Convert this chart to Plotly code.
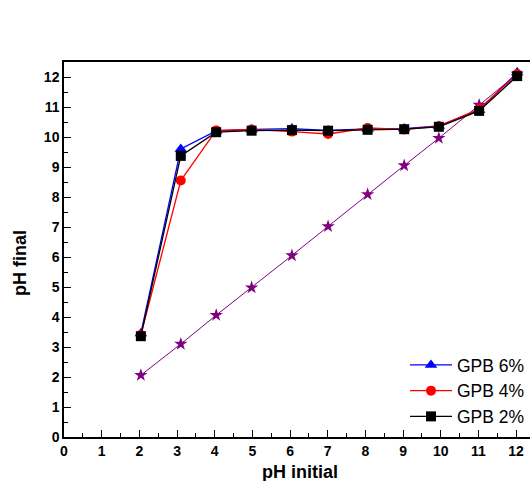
import plotly.graph_objects as go

ph_initial = [2.04, 3.1, 4.04, 4.98, 6.05, 7.01, 8.06, 9.03, 9.95, 11.02, 12.03]
gpb6 = [3.45, 9.6, 10.2, 10.25, 10.28, 10.22, 10.27, 10.28, 10.37, 10.9, 12.15]
gpb4 = [3.4, 8.55, 10.22, 10.25, 10.18, 10.1, 10.3, 10.25, 10.36, 10.93, 12.1]
gpb2 = [3.36, 9.37, 10.16, 10.21, 10.23, 10.21, 10.24, 10.26, 10.34, 10.87, 12.03]
reference = [2.06, 3.1, 4.06, 4.98, 6.05, 7.02, 8.09, 9.05, 9.96, 11.07, 12.1]

x_ticks = list(range(0, 13))
y_ticks = list(range(0, 13))

W, H = 530, 481
L, R, T, B = 64, 0, 62, 44

fig = go.Figure()
fig.add_trace(go.Scatter(x=ph_initial, y=reference, mode="lines+markers",
                         line=dict(color="#800080", width=1),
                         marker=dict(symbol="star", size=10, color="#800080"),
                         showlegend=False))
fig.add_trace(go.Scatter(x=ph_initial, y=gpb6, mode="lines+markers", name="GPB 6%",
                         line=dict(color="#0000FF", width=1.3),
                         marker=dict(symbol="triangle-up", size=11, color="#0000FF")))
fig.add_trace(go.Scatter(x=ph_initial, y=gpb4, mode="lines+markers", name="GPB 4%",
                         line=dict(color="#FF0000", width=1.3),
                         marker=dict(symbol="circle", size=10, color="#FF0000")))
fig.add_trace(go.Scatter(x=ph_initial, y=gpb2, mode="lines+markers", name="GPB 2%",
                         line=dict(color="#000000", width=1.3),
                         marker=dict(symbol="square", size=10, color="#000000")))

pw, ph = W - L - R, H - T - B
def px_to_paper(xp, yp):
    return (xp - L) / pw, (H - B - yp) / ph

axis_font = dict(family="Liberation Sans", size=14, color="black")
title_font = dict(family="Liberation Sans", size=18, color="black")
xt_x, xt_y = px_to_paper(299.5, 472)
yt_x, yt_y = px_to_paper(20, 263)

fig.update_layout(
    width=W, height=H,
    margin=dict(l=L, r=R, t=T, b=B),
    paper_bgcolor="white", plot_bgcolor="white",
    font=dict(family="Liberation Sans", color="black"),
    xaxis=dict(range=[0, 12.37], tickvals=x_ticks, ticktext=[f"<b>{v}</b>" for v in x_ticks],
               tickfont=axis_font, showgrid=False, zeroline=False, automargin=False,
               showline=True, linecolor="black", linewidth=1.5, mirror=True,
               ticks="inside", ticklen=7, tickwidth=1.2, tickcolor="black",
               minor=dict(dtick=0.5, ticks="inside", ticklen=4, tickwidth=1, tickcolor="black")),
    yaxis=dict(range=[0, 12.5], tickvals=y_ticks, ticktext=[f"<b>{v}</b>" for v in y_ticks],
               tickfont=axis_font, showgrid=False, zeroline=False, automargin=False,
               showline=True, linecolor="black", linewidth=1.5, mirror=False,
               ticks="inside", ticklen=7, tickwidth=1.2, tickcolor="black",
               minor=dict(dtick=0.5, ticks="inside", ticklen=4, tickwidth=1, tickcolor="black")),
    legend=dict(x=0.732, y=0.24, xanchor="left", yanchor="top",
                font=dict(family="Liberation Sans", size=17.5, color="black"),
                bgcolor="rgba(0,0,0,0)", itemwidth=42, tracegroupgap=0),
    annotations=[
        dict(text="<b>pH initial</b>", x=xt_x, y=xt_y, xref="paper", yref="paper",
             xanchor="center", yanchor="middle", showarrow=False, font=title_font),
        dict(text="<b>pH final</b>", x=yt_x, y=yt_y, xref="paper", yref="paper",
             xanchor="center", yanchor="middle", showarrow=False, textangle=-90, font=title_font),
    ],
)

fig.write_html("out.html", config={"displayModeBar": False},
               post_script="document.body.style.margin='0';document.body.style.overflow='hidden';")
